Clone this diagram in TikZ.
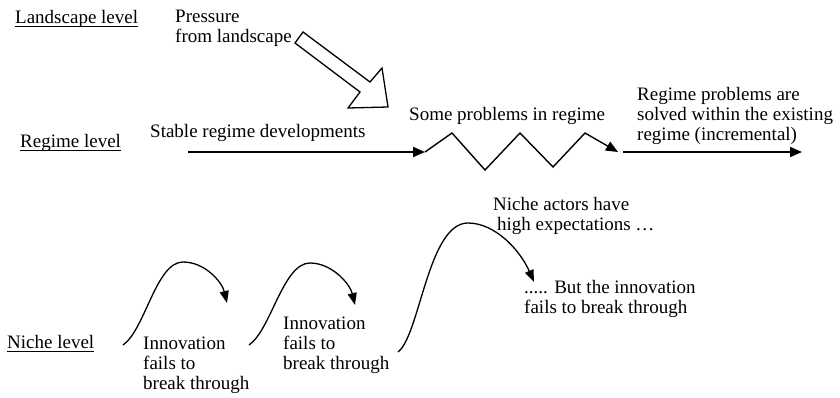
\documentclass[tikz,border=0pt]{standalone}
\usepackage{fontspec}
\setmainfont{Liberation Serif}
\usetikzlibrary{arrows.meta}
\begin{document}
\begin{tikzpicture}[x=1pt,y=-1pt,
  txt/.style={anchor=base west,inner sep=0pt,font=\fontsize{19}{20}\selectfont,align=left},
  ul/.style={line width=0.9pt},
  reg/.style={line width=1.8pt,-{Triangle[length=12pt,width=10pt]}},
  zig/.style={line width=1.4pt,line join=miter,-{Triangle[length=12pt,width=10pt]}},
  niche/.style={line width=1.3pt,-{Triangle[length=12pt,width=9pt]}},
  block/.style={line width=1.3pt,fill=white,line join=miter}]
\useasboundingbox (0,0) rectangle (840,397);
% level labels
\node[txt] (land) at (15,23) {Landscape level};
\node[txt] (regl) at (20,147) {Regime level};
\node[txt] (nichel) at (7,348) {Niche level};
\draw[ul] ([yshift=-3pt]land.base west) -- ([yshift=-3pt]land.base east);
\draw[ul] ([yshift=-3pt]regl.base west) -- ([yshift=-3pt]regl.base east);
\draw[ul] ([yshift=-3pt]nichel.base west) -- ([yshift=-3pt]nichel.base east);
% landscape
\node[txt] (press) at (175,42) {Pressure\\from landscape};
\draw[block] (295,43) -- (303,32) -- (370,82) -- (382,68) -- (388,107) -- (348,108) -- (360,92) -- cycle;
% regime
\node[txt] (stable) at (150,137) {Stable regime developments};
\node[txt] (some) at (409,120) {Some problems in regime};
\node[txt] (solved) at (637,140) {Regime problems are\\solved within the existing\\regime (incremental)};
\coordinate (r0) at (188,152);
\coordinate (z0) at (425,152);
\coordinate (z1) at (452,133);
\coordinate (z2) at (485,170);
\coordinate (z3) at (520,133);
\coordinate (z4) at (553,167);
\coordinate (z5) at (585,133);
\coordinate (z6) at (618,152);
\coordinate (r2) at (623,152);
\coordinate (r3) at (802,152);
\draw[reg] (r0) -- (z0);
\draw[zig] (z0) -- (z1) -- (z2) -- (z3) -- (z4) -- (z5) -- (z6);
\draw[reg] (r2) -- (r3);
% niche
\node[txt] (inn1) at (143,389) {Innovation\\fails to\\break through};
\node[txt] (inn2) at (283,369) {Innovation\\fails to\\break through};
\node[txt] (high) at (493,230) {Niche actors have\\\hspace*{4pt}high expectations …};
\node[txt] (but) at (524,313) {..... But the innovation\\fails to break through};
\coordinate (s1) at (123,345);
\coordinate (p1) at (183,262);
\coordinate (t1) at (227,303);
\coordinate (s2) at (249,345);
\coordinate (p2) at (310,263);
\coordinate (t2) at (355,305);
\coordinate (s3) at (398,352);
\coordinate (p3) at (468,223);
\coordinate (t3) at (534,282);
\draw[niche] (s1) .. controls (145,330) and (156,262) .. (p1) .. controls (205,262) and (222,282) .. (t1);
\draw[niche] (s2) .. controls (271,330) and (283,263) .. (p2) .. controls (332,263) and (350,284) .. (t2);
\draw[niche] (s3) .. controls (420,335) and (428,223) .. (p3) .. controls (495,223) and (520,250) .. (t3);
\end{tikzpicture}
\end{document}
